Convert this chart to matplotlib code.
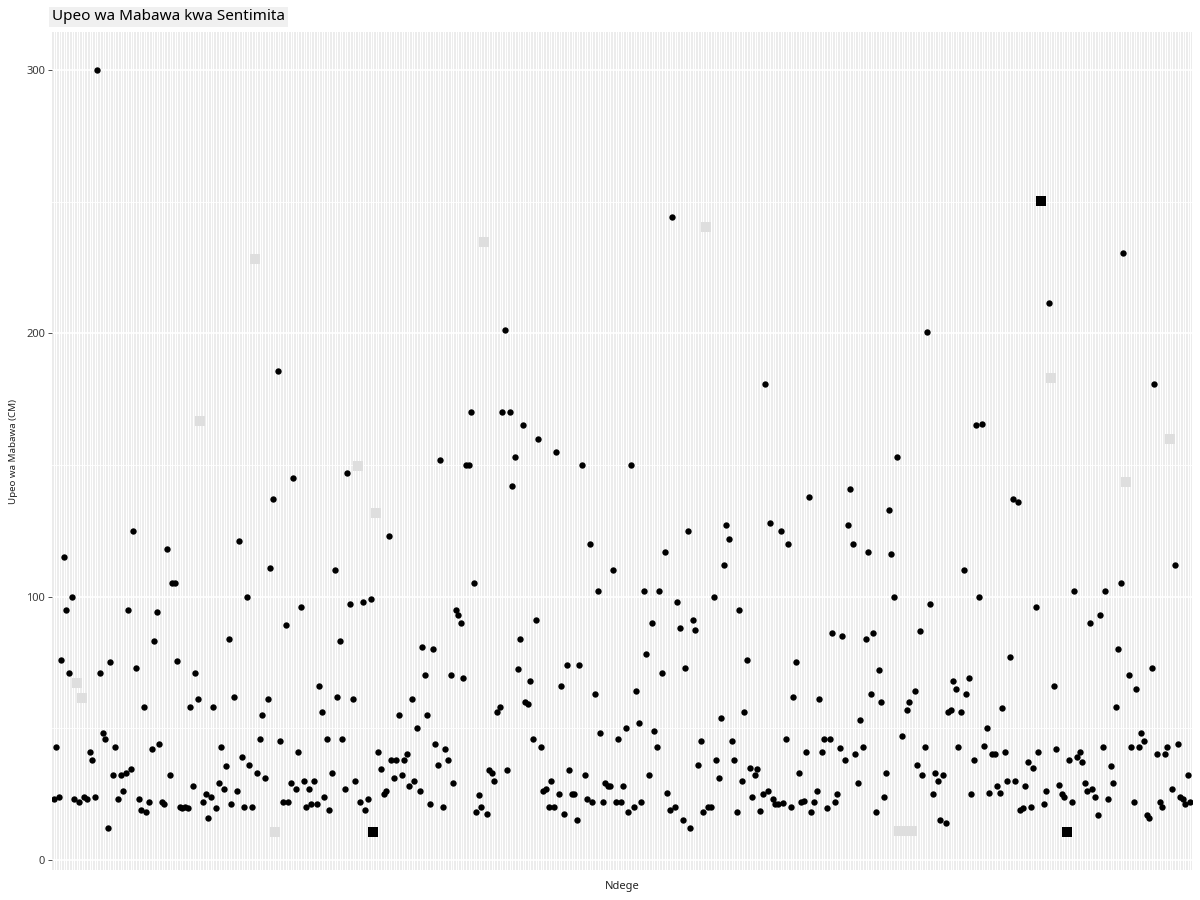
import matplotlib
matplotlib.use("Agg")
import matplotlib.pyplot as plt
import numpy as np

plt.rcParams['font.family'] = ['Noto Sans', 'DejaVu Sans']

title = "Upeo wa Mabawa kwa Sentimita"
x_label = "Ndege"
y_label = "Upeo wa Mabawa (CM)"
y_ticks = [0, 100, 200, 300]

# max wingspan per bird, in the order of the categories on the x axis
wingspan = [
    23.2, 42.8, 23.8, 75.8, 114.9, 94.8, 70.9, 99.7, 23.2, 67.0,
    21.9, 61.4, 23.8, 23.2, 40.9, 37.8, 23.8, 300.0, 70.9, 48.1,
    45.8, 12.0, 75.1, 32.2, 42.8, 23.2, 32.2, 26.1, 32.9, 94.8,
    34.4, 124.8, 72.8, 23.2, 18.9, 58.0, 18.1, 21.9, 42.0, 83.0,
    94.1, 43.9, 21.9, 21.1, 118.0, 32.2, 105.1, 105.1, 75.4, 20.0,
    19.6, 20.0, 19.6, 58.0, 28.0, 70.9, 61.0, 166.6, 21.9, 24.9,
    15.8, 23.8, 58.0, 19.6, 29.1, 42.8, 26.8, 35.6, 83.8, 21.1,
    61.8, 26.1, 121.1, 39.0, 20.0, 99.7, 35.9, 20.0, 228.3, 32.9,
    45.8, 54.9, 31.0, 61.0, 110.8, 137.0, 10.6, 185.7, 45.1, 21.9,
    89.1, 21.9, 29.1, 144.9, 26.8, 40.9, 95.9, 29.9, 20.0, 26.8,
    21.1, 29.9, 21.1, 65.9, 56.1, 23.8, 45.8, 18.9, 32.9, 110.0,
    61.8, 83.0, 45.8, 26.8, 146.8, 97.1, 61.0, 29.9, 149.7, 21.9,
    97.8, 18.9, 23.0, 99.0, 10.6, 131.9, 40.9, 34.4, 24.9, 26.1,
    122.9, 37.8, 31.0, 37.8, 54.9, 32.2, 37.8, 40.1, 28.0, 61.0,
    29.9, 50.0, 26.1, 80.8, 70.1, 54.9, 21.1, 80.0, 43.9, 35.9,
    151.9, 20.0, 42.0, 37.8, 70.1, 29.1, 94.8, 92.9, 89.9, 69.0,
    150.0, 150.0, 170.0, 105.1, 18.1, 24.6, 20.0, 234.7, 17.3, 34.1,
    32.9, 29.9, 56.1, 58.0, 170.0, 201.3, 34.1, 170.0, 141.9, 152.9,
    72.4, 83.8, 165.1, 59.9, 59.1, 67.8, 45.8, 91.0, 159.7, 42.8,
    26.1, 26.8, 20.0, 29.9, 20.0, 154.8, 24.9, 65.9, 17.3, 73.9,
    34.1, 24.9, 24.9, 15.1, 73.9, 149.9, 32.2, 23.0, 119.9, 21.9,
    62.9, 102.0, 48.1, 21.9, 29.1, 28.0, 28.0, 110.0, 21.9, 45.8,
    21.9, 28.0, 50.0, 18.1, 149.9, 20.0, 64.1, 51.9, 21.9, 102.0,
    78.1, 32.2, 89.9, 48.9, 42.8, 102.0, 70.9, 116.8, 25.3, 18.9,
    244.2, 20.0, 97.8, 88.0, 15.1, 72.8, 124.8, 12.0, 91.0, 87.2,
    35.9, 45.1, 18.1, 240.4, 20.0, 20.0, 99.7, 37.8, 31.0, 53.8,
    111.9, 127.1, 121.8, 45.1, 37.8, 18.1, 94.8, 29.9, 56.1, 75.8,
    34.8, 23.8, 32.2, 34.4, 18.5, 24.9, 180.8, 26.1, 127.8, 23.0,
    21.1, 21.1, 124.8, 21.5, 45.8, 119.9, 20.0, 61.8, 75.1, 32.9,
    21.9, 22.3, 40.9, 137.7, 18.1, 21.9, 26.1, 61.0, 40.9, 45.8,
    19.6, 45.8, 86.1, 21.9, 24.9, 42.4, 84.9, 37.8, 127.1, 140.8,
    119.9, 40.1, 29.1, 53.0, 42.8, 83.8, 116.8, 62.9, 86.1, 18.1,
    72.0, 59.9, 23.8, 32.9, 132.8, 116.1, 99.7, 152.9, 10.9, 47.0,
    10.9, 57.0, 59.9, 10.9, 64.1, 35.9, 86.8, 32.2, 42.8, 200.5,
    97.1, 24.9, 32.9, 29.9, 15.1, 32.2, 13.9, 56.1, 57.0, 68.0,
    64.8, 42.8, 56.1, 110.0, 62.9, 69.0, 24.9, 37.8, 165.1, 99.7,
    165.4, 43.2, 50.0, 25.3, 40.1, 40.1, 28.0, 25.3, 57.6, 40.9,
    29.9, 77.0, 137.0, 29.9, 135.8, 18.9, 19.6, 28.0, 37.1, 20.0,
    34.8, 95.9, 40.9, 250.3, 21.1, 26.1, 211.5, 183.0, 66.1, 42.0,
    28.4, 24.9, 23.8, 10.6, 37.8, 21.9, 102.0, 39.0, 40.9, 37.1,
    29.1, 26.1, 89.9, 26.8, 23.8, 17.0, 92.9, 42.8, 102.0, 23.0,
    35.6, 29.1, 58.0, 80.0, 105.1, 230.5, 143.7, 70.1, 42.8, 21.9,
    64.8, 42.8, 48.1, 45.1, 17.0, 15.8, 72.8, 180.8, 40.1, 21.9,
    20.0, 40.1, 42.8, 159.7, 26.8, 111.9, 43.9, 23.8, 23.0, 21.1,
    32.2, 21.9,
]

# points that render as faded grey boxes or solid black squares
grey_boxes = [9, 11, 57, 78, 86, 118, 125, 167, 253, 328, 330, 333, 387, 416, 433]
black_squares = [124, 383, 393]

birds = np.arange(len(wingspan))
values = np.array(wingspan)

fig = plt.figure(figsize=(12, 9), dpi=100)
ax = fig.add_axes([52 / 1200, 1 - 870 / 900, 1140 / 1200, 838 / 900])
ax.set_facecolor('#EBEBEB')

# grid: one white line per bird, plus major/minor horizontal lines
for b in birds:
    ax.axvline(b, color='white', lw=0.8, zorder=0)
for v in [50, 150, 250]:
    ax.axhline(v, color='white', lw=0.6, zorder=0)
for v in y_ticks:
    ax.axhline(v, color='white', lw=1.2, zorder=0)

normal = np.ones(len(values), dtype=bool)
normal[grey_boxes] = False
normal[black_squares] = False

ax.scatter(birds[normal], values[normal], s=21, color='black', linewidths=0, zorder=3)
ax.scatter(birds[grey_boxes], values[grey_boxes], s=60, marker='s',
           color='#DEDEDE', linewidths=0, zorder=2)
ax.scatter(birds[black_squares], values[black_squares], s=50, marker='s',
           color='black', linewidths=0, zorder=3)

span = values.max() - values.min()
ax.set_ylim(values.min() - 0.05 * span, values.max() + 0.05 * span)
ax.set_xlim(-0.6, len(values) - 1 + 0.6)

ax.set_yticks(y_ticks)
ax.set_yticklabels([str(t) for t in y_ticks], fontsize=8, color='#3A3A3A')
ax.tick_params(axis='y', length=3, width=0.6, color='#333333', pad=2)
ax.tick_params(axis='x', length=0, labelbottom=False)
for s in ax.spines.values():
    s.set_visible(False)

ax.set_xlabel(x_label, fontsize=8, color='#222222', labelpad=8)
ax.set_ylabel(y_label, fontsize=7, color='#222222', labelpad=6)

fig.text(52 / 1200, 1 - 17 / 900, title, fontsize=11, va='center', ha='left',
         color='black',
         bbox=dict(facecolor='#F0F0F0', edgecolor='none', pad=2))

fig.savefig('out.png', dpi=100)
